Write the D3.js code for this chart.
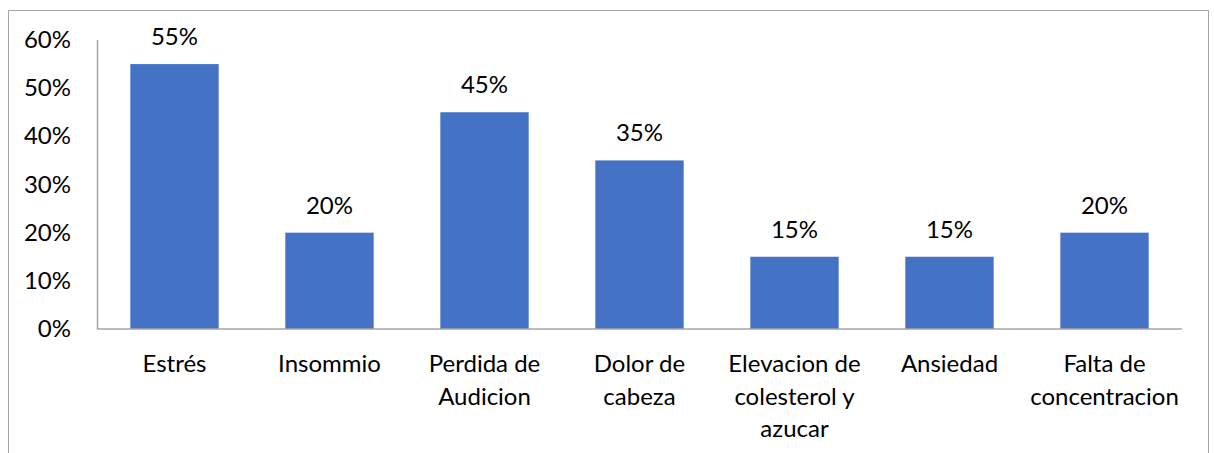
<!DOCTYPE html>
<html>
<head>
<meta charset="utf-8">
<script src="https://cdn.jsdelivr.net/npm/d3@7"></script>
<style>
  body { margin: 0; background: #fff; }
  text { font-family: Lato, "Liberation Sans", sans-serif; fill: #000; }
</style>
</head>
<body>
<svg id="chart" width="1214" height="453"></svg>
<script>
const categories = [
  ["Estrés"],
  ["Insommio"],
  ["Perdida de", "Audicion"],
  ["Dolor de", "cabeza"],
  ["Elevacion de", "colesterol y", "azucar"],
  ["Ansiedad"],
  ["Falta de", "concentracion"]
];
const values = [0.55, 0.20, 0.45, 0.35, 0.15, 0.15, 0.20];
const yTicks = [0, 0.1, 0.2, 0.3, 0.4, 0.5, 0.6];

const svg = d3.select("#chart");
const FONT = 24;

// outer frame
svg.append("rect")
  .attr("x", 8.5).attr("y", 10.5)
  .attr("width", 1200).attr("height", 470)
  .attr("fill", "none")
  .attr("stroke", "#a6a6a6");

const x = d3.scaleBand()
  .domain(d3.range(categories.length))
  .range([97, 1182])
  .paddingInner(0.43)
  .paddingOuter(0.215);

const y = d3.scaleLinear()
  .domain([0, 0.6])
  .range([329, 40]);

const fmt = d3.format(".0%");

// y tick labels
svg.append("g")
  .selectAll("text")
  .data(yTicks)
  .join("text")
  .attr("x", 71)
  .attr("y", d => y(d) + 8)
  .attr("text-anchor", "end")
  .style("font-size", FONT + "px")
  .text(fmt);

// bars
svg.append("g")
  .selectAll("rect")
  .data(values)
  .join("rect")
  .attr("x", (d, i) => x(i))
  .attr("y", d => y(d))
  .attr("width", x.bandwidth())
  .attr("height", d => y(0) - y(d))
  .attr("fill", "#4472c4");

// axes lines
svg.append("line")
  .attr("x1", 97.5).attr("x2", 97.5)
  .attr("y1", 40).attr("y2", 329)
  .attr("stroke", "#a6a6a6").attr("stroke-width", 1.5);
svg.append("line")
  .attr("x1", 97).attr("x2", 1182)
  .attr("y1", 329).attr("y2", 329)
  .attr("stroke", "#a6a6a6").attr("stroke-width", 1.5);

// data labels
svg.append("g")
  .selectAll("text")
  .data(values)
  .join("text")
  .attr("x", (d, i) => x(i) + x.bandwidth() / 2)
  .attr("y", d => y(d) - 19)
  .attr("text-anchor", "middle")
  .style("font-size", FONT + "px")
  .text(fmt);

// category labels
const catG = svg.append("g");
categories.forEach((lines, i) => {
  const t = catG.append("text")
    .attr("text-anchor", "middle")
    .style("font-size", FONT + "px");
  lines.forEach((ln, j) => {
    t.append("tspan")
      .attr("x", x(i) + x.bandwidth() / 2)
      .attr("y", 372 + j * 32.5)
      .text(ln);
  });
});
</script>
</body>
</html>
